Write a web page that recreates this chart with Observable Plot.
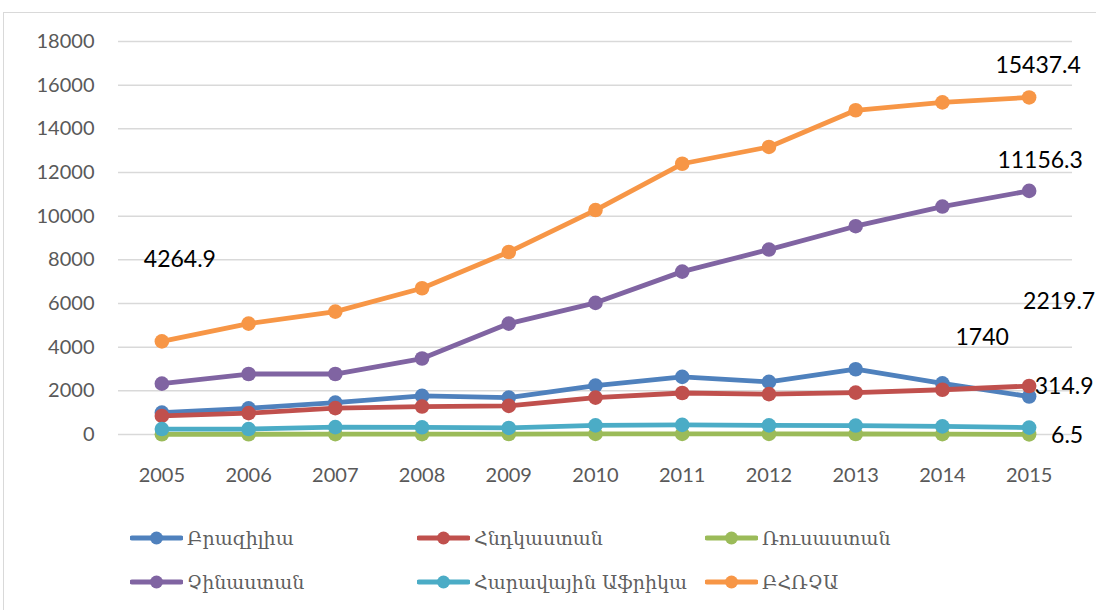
<!DOCTYPE html>
<html>
<head>
<meta charset="utf-8">
<script src="https://cdn.jsdelivr.net/npm/d3@7"></script>
<script src="https://cdn.jsdelivr.net/npm/@observablehq/plot@0.6"></script>
<style>
  html, body { margin: 0; padding: 0; background: #fff; }
  #wrap { position: relative; width: 1096px; height: 610px; overflow: hidden; }
  #frame { position: absolute; left: 3px; top: 12px; width: 1100px; height: 620px; border: 1px solid #d9d9d9; box-sizing: border-box; }
  #chart { position: absolute; left: 0; top: 0; }
  .leg { position: absolute; display: flex; align-items: center; font-family: "DejaVu Serif", "DejaVu Sans", serif; font-size: 19px; color: #5f5f5f; white-space: nowrap; }
  .leg svg { margin-right: 4px; }
</style>
</head>
<body>
<div id="wrap">
  <div id="frame"></div>
  <div id="chart"></div>
</div>
<script>
const years = [2005, 2006, 2007, 2008, 2009, 2010, 2011, 2012, 2013, 2014, 2015];
const seriesNames = ["Բրազիլիա", "Հնդկաստան", "Ռուսաստան", "Չինաստան", "Հարավային Աֆրիկա", "ԲՀՌՉԱ"];
const seriesColors = ["#4F81BD", "#C0504D", "#9BBB59", "#8064A2", "#4BACC6", "#F79646"];
const brazil = [1000, 1200, 1460, 1770, 1690, 2240, 2640, 2410, 2990, 2340, 1740];
const india = [850, 980, 1210, 1280, 1310, 1690, 1900, 1850, 1920, 2050, 2219.7];
const russia = [10, 12, 15, 18, 20, 25, 28, 25, 22, 15, 6.5];
const china = [2330, 2770, 2770, 3480, 5080, 6030, 7460, 8470, 9540, 10440, 11156.3];
const southAfrica = [250, 250, 340, 330, 300, 420, 440, 420, 410, 370, 314.9];
const brics = [4264.9, 5080, 5630, 6700, 8360, 10280, 12400, 13170, 14850, 15210, 15437.4];
const yTicks = [0, 2000, 4000, 6000, 8000, 10000, 12000, 14000, 16000, 18000];
// labelled points: [series index, year]
const labelPoints = [[5, 2005], [5, 2015], [3, 2015], [1, 2015], [0, 2015], [4, 2015], [2, 2015]];

const seriesValues = [brazil, india, russia, china, southAfrica, brics];
const table = [];
seriesNames.forEach((s, i) => years.forEach((yr, j) => table.push({series: s, year: yr, value: seriesValues[i][j]})));

// label offsets (layout only)
const labelOffsets = {
  "5-2005": [18, -82], "5-2015": [9, -32], "3-2015": [11, -30],
  "1-2015": [30, -84], "0-2015": [-47, -59], "4-2015": [35, -41], "2-2015": [38, 1]
};

const marks = [
  Plot.ruleY(yTicks, {stroke: "#d9d9d9", strokeWidth: 1.5})
];
seriesNames.forEach((s, i) => {
  const d = table.filter(r => r.series === s);
  marks.push(Plot.line(d, {x: "year", y: "value", stroke: seriesColors[i], strokeWidth: 4.8, strokeLinejoin: "round", strokeLinecap: "round"}));
  marks.push(Plot.dot(d, {x: "year", y: "value", r: 7.3, fill: seriesColors[i], stroke: "none"}));
});
labelPoints.forEach(([si, yr]) => {
  const v = seriesValues[si][years.indexOf(yr)];
  const off = labelOffsets[si + "-" + yr];
  marks.push(Plot.text([{year: yr, value: v}], {
    x: "year", y: "value", text: d => String(d.value),
    dx: off[0], dy: off[1], fill: "#000", fontSize: 23
  }));
});

const chart = Plot.plot({
  width: 1096,
  height: 500,
  marginLeft: 118,
  marginRight: 24,
  marginTop: 41,
  marginBottom: 66,
  style: {fontFamily: "Lato, 'Liberation Sans', sans-serif", fontSize: "20px", color: "#595959", background: "transparent", overflow: "visible"},
  x: {type: "linear", domain: [2004.5, 2015.5], ticks: years, tickFormat: d => String(d), tickSize: 0, tickPadding: 33, label: null},
  y: {domain: [0, 18000], ticks: yTicks, tickFormat: d => String(d), tickSize: 0, tickPadding: 24, label: null},
  marks
});
document.getElementById("chart").appendChild(chart);

// legend (HTML)
const legPos = [[130, 538], [417, 538], [705, 538], [130, 582], [417, 582], [705, 582]];
const wrap = document.getElementById("wrap");
seriesNames.forEach((s, i) => {
  const el = document.createElement("div");
  el.className = "leg";
  el.style.left = legPos[i][0] + "px";
  el.style.top = (legPos[i][1] - 14) + "px";
  el.style.height = "28px";
  el.innerHTML = `<svg width="53" height="16"><line x1="2" y1="8" x2="51" y2="8" stroke="${seriesColors[i]}" stroke-width="5" stroke-linecap="round"/><circle cx="26.5" cy="8" r="6.5" fill="${seriesColors[i]}"/></svg><span>${s}</span>`;
  wrap.appendChild(el);
});
</script>
</body>
</html>
